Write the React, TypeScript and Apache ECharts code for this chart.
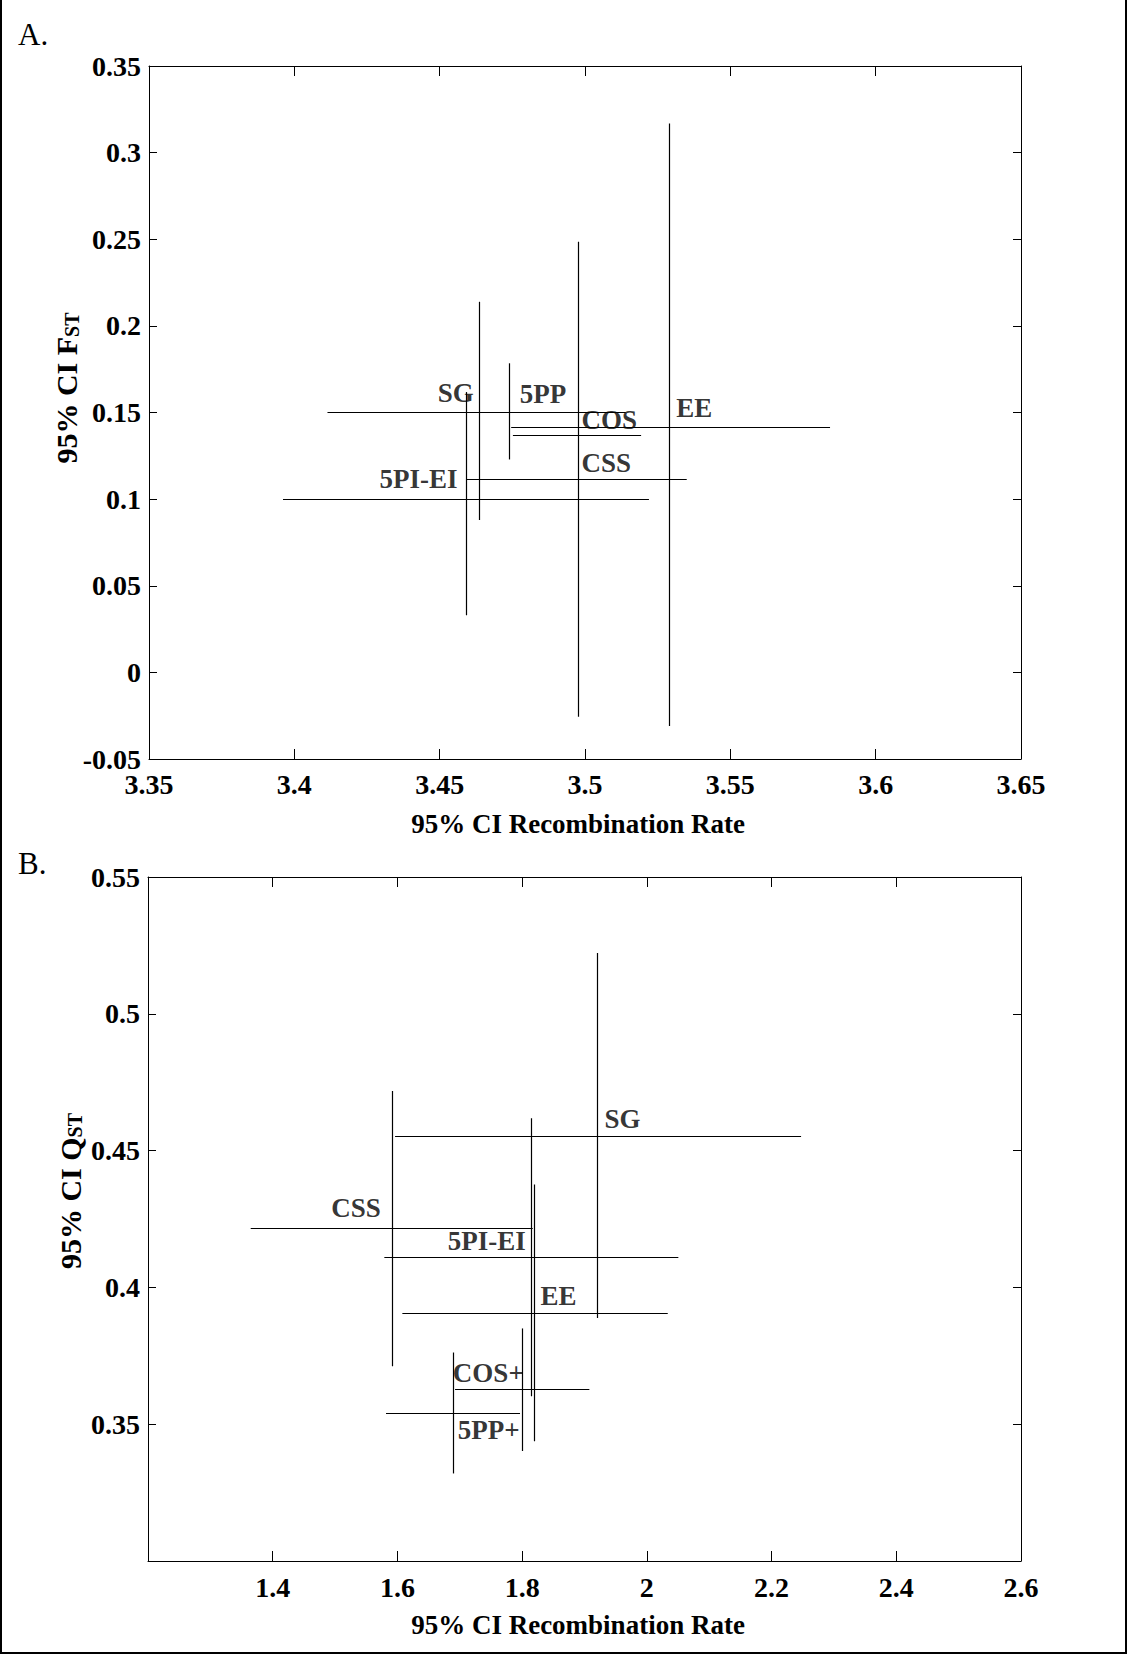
import React, { useEffect, useRef } from "react";
import * as echarts from "echarts";

// ---------- Panel A data ----------
const A_X_MIN = 3.35;
const A_X_MAX = 3.65;
const A_X_STEP = 0.05;
const A_Y_MIN = -0.05;
const A_Y_MAX = 0.35;
const A_Y_STEP = 0.05;

const A_LABELS = ["SG", "5PP", "COS", "EE", "CSS", "5PI-EI"];
const A_LABEL_X = [3.4495, 3.4777, 3.499, 3.5316, 3.499, 3.4295];
const A_LABEL_Y = [0.1554, 0.1549, 0.1398, 0.1468, 0.1152, 0.1058];

// horizontal CI segments (recombination rate) at a given Fst
const A_H_Y = [0.1504, 0.1368, 0.1417, 0.1117, 0.1];
const A_H_LO = [3.4114, 3.4752, 3.4746, 3.4593, 3.3961];
const A_H_HI = [3.514, 3.5193, 3.5843, 3.535, 3.522];

// vertical CI segments (Fst) at a given recombination rate
const A_V_X = [3.4636, 3.474, 3.529, 3.4976, 3.4593];
const A_V_LO = [0.0879, 0.1229, -0.031, -0.0256, 0.033];
const A_V_HI = [0.2139, 0.1784, 0.3168, 0.2486, 0.1618];

// ---------- Panel B data ----------
const B_X_MIN = 1.2;
const B_X_MAX = 2.6;
const B_X_STEP = 0.2;
const B_Y_MIN = 0.3;
const B_Y_MAX = 0.55;
const B_Y_STEP = 0.05;

const B_LABELS = ["SG", "CSS", "5PI-EI", "EE", "COS+", "5PP+"];
const B_LABEL_X = [1.933, 1.4946, 1.6817, 1.8303, 1.6897, 1.6977];
const B_LABEL_Y = [0.4579, 0.4253, 0.4134, 0.3933, 0.3652, 0.3444];

const B_H_Y = [0.4552, 0.4216, 0.411, 0.3907, 0.3626, 0.3539];
const B_H_LO = [1.5962, 1.3647, 1.579, 1.6079, 1.6924, 1.5817];
const B_H_HI = [2.2473, 1.817, 2.0505, 2.0335, 1.9078, 1.7966];

const B_V_X = [1.9206, 1.5918, 1.8154, 1.8196, 1.7994, 1.6897];
const B_V_LO = [0.3888, 0.3712, 0.3602, 0.3438, 0.3402, 0.332];
const B_V_HI = [0.5222, 0.4718, 0.4618, 0.4376, 0.385, 0.3762];

const X_TITLE = "95% CI Recombination Rate";

const FONT = "'Liberation Serif', 'Times New Roman', Times, serif";

function fmt(v: number) {
  return String(parseFloat(v.toFixed(4)));
}

export default function App() {
  const ref = useRef<HTMLDivElement>(null);

  useEffect(() => {
    if (!ref.current) return;
    const chart = echarts.init(ref.current, null, { renderer: "svg" });

    const tickLabel = {
      fontFamily: FONT,
      fontWeight: "bold" as const,
      fontSize: 28,
      color: "#000",
    };
    const axisLine = { show: true, onZero: false, lineStyle: { color: "#000", width: 1 } };

    const xAxisBase = (grid: number, min: number, max: number, step: number, pos: "bottom" | "top", showLabel: boolean, margin: number, hideMin: boolean) => ({
      type: "value",
      gridIndex: grid,
      position: pos,
      min,
      max,
      interval: step,
      axisLine,
      axisTick: { show: true, inside: true, length: 10, lineStyle: { color: "#000", width: 1 } },
      splitLine: { show: false },
      axisLabel: {
        show: showLabel,
        ...tickLabel,
        margin,
        formatter: (v: number) => (hideMin && Math.abs(v - min) < 1e-9 ? "" : fmt(v)),
      },
    });
    const yAxisBase = (grid: number, min: number, max: number, step: number, pos: "left" | "right", showLabel: boolean, hideMin: boolean) => ({
      type: "value",
      gridIndex: grid,
      position: pos,
      min,
      max,
      interval: step,
      axisLine,
      axisTick: { show: true, inside: true, length: 8, lineStyle: { color: "#000", width: 1 } },
      splitLine: { show: false },
      axisLabel: {
        show: showLabel,
        ...tickLabel,
        margin: 8,
        formatter: (v: number) => (hideMin && Math.abs(v - min) < 1e-9 ? "" : fmt(v)),
      },
    });

    const lineStyle = { color: "#000", width: 1.2, opacity: 1, curveness: 0 };

    const segSeries = (xi: number, yi: number, coords: number[][][]) => ({
      type: "lines",
      coordinateSystem: "cartesian2d",
      xAxisIndex: xi,
      yAxisIndex: yi,
      silent: true,
      lineStyle,
      data: coords.map((c) => ({ coords: c })),
      z: 3,
    });

    const labelSeries = (xi: number, yi: number, names: string[], xs: number[], ys: number[]) => ({
      type: "scatter",
      xAxisIndex: xi,
      yAxisIndex: yi,
      silent: true,
      symbolSize: 1,
      itemStyle: { color: "rgba(0,0,0,0)" },
      data: names.map((n, k) => ({ name: n, value: [xs[k], ys[k]] })),
      label: {
        show: true,
        formatter: "{b}",
        position: [0, 0],
        align: "left",
        verticalAlign: "bottom",
        offset: [0, 4],
        fontFamily: FONT,
        fontWeight: "bold",
        fontSize: 27,
        color: "#000",
      },
      z: 4,
    });

    const axisTitle = { fontFamily: FONT, fontWeight: "bold", fontSize: 27, fill: "#000" };

    chart.setOption({
      animation: false,
      backgroundColor: "#fff",
      grid: [
        { left: 149, top: 66, width: 872, height: 693, containLabel: false },
        { left: 148, top: 877, width: 873, height: 684, containLabel: false },
      ],
      xAxis: [
        xAxisBase(0, A_X_MIN, A_X_MAX, A_X_STEP, "bottom", true, 11, false),
        xAxisBase(0, A_X_MIN, A_X_MAX, A_X_STEP, "top", false, 11, false),
        xAxisBase(1, B_X_MIN, B_X_MAX, B_X_STEP, "bottom", true, 12, true),
        xAxisBase(1, B_X_MIN, B_X_MAX, B_X_STEP, "top", false, 12, true),
      ],
      yAxis: [
        yAxisBase(0, A_Y_MIN, A_Y_MAX, A_Y_STEP, "left", true, false),
        yAxisBase(0, A_Y_MIN, A_Y_MAX, A_Y_STEP, "right", false, false),
        yAxisBase(1, B_Y_MIN, B_Y_MAX, B_Y_STEP, "left", true, true),
        yAxisBase(1, B_Y_MIN, B_Y_MAX, B_Y_STEP, "right", false, true),
      ],
      series: [
        segSeries(0, 0, A_H_Y.map((y, k) => [[A_H_LO[k], y], [A_H_HI[k], y]])),
        segSeries(0, 0, A_V_X.map((x, k) => [[x, A_V_LO[k]], [x, A_V_HI[k]]])),
        labelSeries(0, 0, A_LABELS, A_LABEL_X, A_LABEL_Y),
        segSeries(2, 2, B_H_Y.map((y, k) => [[B_H_LO[k], y], [B_H_HI[k], y]])),
        segSeries(2, 2, B_V_X.map((x, k) => [[x, B_V_LO[k]], [x, B_V_HI[k]]])),
        labelSeries(2, 2, B_LABELS, B_LABEL_X, B_LABEL_Y),
      ],
      graphic: [
        // outer frame (left, right, bottom)
        { type: "line", shape: { x1: 1, y1: 0, x2: 1, y2: 1653 }, style: { stroke: "#000", lineWidth: 2 } },
        { type: "line", shape: { x1: 1126, y1: 0, x2: 1126, y2: 1653 }, style: { stroke: "#000", lineWidth: 2 } },
        { type: "line", shape: { x1: 0, y1: 1653, x2: 1127, y2: 1653 }, style: { stroke: "#000", lineWidth: 2 } },
        // panel letters
        {
          type: "text", x: 18, y: 34.5,
          style: { text: "A.", fontFamily: FONT, fontSize: 31, fill: "#000", align: "left", verticalAlign: "middle" },
        },
        {
          type: "text", x: 18, y: 863.5,
          style: { text: "B.", fontFamily: FONT, fontSize: 31, fill: "#000", align: "left", verticalAlign: "middle" },
        },
        // x axis titles
        { type: "text", x: 578, y: 824, style: { text: X_TITLE, ...axisTitle, align: "center", verticalAlign: "middle" } },
        { type: "text", x: 578, y: 1625, style: { text: X_TITLE, ...axisTitle, align: "center", verticalAlign: "middle" } },
        // y axis titles (rotated, with subscripts)
        {
          type: "text", x: 66.6, y: 388, rotation: Math.PI / 2,
          style: {
            text: "{a|95% CI F}{b|ST}",
            align: "center",
            verticalAlign: "middle",
            rich: {
              a: { fontFamily: FONT, fontWeight: "bold", fontSize: 30, lineHeight: 30, fill: "#000", color: "#000" },
              b: { fontFamily: FONT, fontWeight: "bold", fontSize: 20, lineHeight: 16, verticalAlign: "bottom", fill: "#000", color: "#000" },
            },
          },
        },
        {
          type: "text", x: 70, y: 1191, rotation: Math.PI / 2,
          style: {
            text: "{a|95% CI Q}{b|ST}",
            align: "center",
            verticalAlign: "middle",
            rich: {
              a: { fontFamily: FONT, fontWeight: "bold", fontSize: 30, lineHeight: 30, fill: "#000", color: "#000" },
              b: { fontFamily: FONT, fontWeight: "bold", fontSize: 20, lineHeight: 16, verticalAlign: "bottom", fill: "#000", color: "#000" },
            },
          },
        },
      ],
    });

    return () => chart.dispose();
  }, []);

  return (
    <div
      ref={ref}
      style={{ position: "absolute", left: 0, top: 0, width: 1127, height: 1654, background: "#fff" }}
    />
  );
}
